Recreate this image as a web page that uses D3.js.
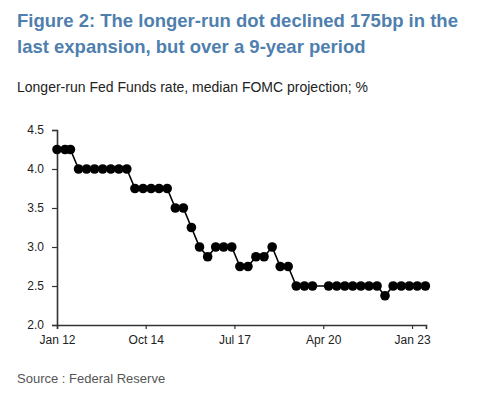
<!DOCTYPE html>
<html>
<head>
<meta charset="utf-8">
<script src="https://cdn.jsdelivr.net/npm/d3@7"></script>
<style>
  html, body { margin: 0; padding: 0; background: #fff; }
  svg { display: block; font-family: "Liberation Sans", Arial, sans-serif; }
</style>
</head>
<body>
<div id="chart"></div>
<script>
// FOMC meeting months (summary of economic projections)
const meetings = [
    "2012-01", "2012-04", "2012-06", "2012-09", "2012-12",
    "2013-03", "2013-06", "2013-09", "2013-12",
    "2014-03", "2014-06", "2014-09", "2014-12",
    "2015-03", "2015-06", "2015-09", "2015-12",
    "2016-03", "2016-06", "2016-09", "2016-12",
    "2017-03", "2017-06", "2017-09", "2017-12",
    "2018-03", "2018-06", "2018-09", "2018-12",
    "2019-03", "2019-06", "2019-09", "2019-12",
    "2020-06", "2020-09", "2020-12",
    "2021-03", "2021-06", "2021-09", "2021-12",
    "2022-03", "2022-06", "2022-09", "2022-12",
    "2023-03", "2023-06"
];

// Longer-run median projection, %
const longerRun = [
    4.25, 4.25, 4.25, 4.0, 4.0,
    4.0, 4.0, 4.0, 4.0,
    4.0, 3.75, 3.75, 3.75,
    3.75, 3.75, 3.5, 3.5,
    3.25, 3.0, 2.875, 3.0,
    3.0, 3.0, 2.75, 2.75,
    2.875, 2.875, 3.0, 2.75,
    2.75, 2.5, 2.5, 2.5,
    2.5, 2.5, 2.5,
    2.5, 2.5, 2.5, 2.5,
    2.375, 2.5, 2.5, 2.5,
    2.5, 2.5
];

const xTickDates = ["2012-01", "2014-10", "2017-07", "2020-04", "2023-01"];
const xTickLabels = ["Jan 12", "Oct 14", "Jul 17", "Apr 20", "Jan 23"];
const yTicks = [2.0, 2.5, 3.0, 3.5, 4.0, 4.5];

const WIDTH = 500;
const HEIGHT = 398;
const PLOT = { left: 57, right: 426, top: 130, bottom: 325 };

const parseMonth = d3.timeParse("%Y-%m");

const data = meetings.map((m, i) => ({ date: parseMonth(m), value: longerRun[i] }));

const svg = d3.select("#chart").append("svg")
    .attr("width", WIDTH)
    .attr("height", HEIGHT);

// Titres
const title = svg.append("text")
    .attr("x", 17)
    .attr("fill", "#4f7fae")
    .attr("font-weight", "bold")
    .attr("font-size", "18.5px");
title.append("tspan").attr("x", 17).attr("y", 27)
    .text("Figure 2: The longer-run dot declined 175bp in the");
title.append("tspan").attr("x", 17).attr("y", 53)
    .text("last expansion, but over a 9-year period");

svg.append("text")
    .attr("x", 17)
    .attr("y", 92)
    .attr("fill", "#222")
    .attr("font-size", "14px")
    .text("Longer-run Fed Funds rate, median FOMC projection; %");

// Échelles
const x = d3.scaleTime()
    .domain([parseMonth("2012-01"), new Date(2023, 5, 8)])
    .range([PLOT.left, PLOT.right]);

const y = d3.scaleLinear()
    .domain([2.0, 4.5])
    .range([PLOT.bottom, PLOT.top]);

// Axe X
const xAxis = d3.axisBottom(x)
    .tickValues(xTickDates.map(parseMonth))
    .tickFormat((d, i) => xTickLabels[i])
    .tickSizeOuter(0)
    .tickSize(4)
    .tickPadding(6);

const gx = svg.append("g")
    .attr("transform", `translate(0,${PLOT.bottom})`)
    .call(xAxis);

// Axe Y
const yAxis = d3.axisLeft(y)
    .tickValues(yTicks)
    .tickFormat(d3.format(".1f"))
    .tickSizeOuter(0)
    .tickSize(5)
    .tickPadding(8);

const gy = svg.append("g")
    .attr("transform", `translate(${PLOT.left},0)`)
    .call(yAxis);

[gx, gy].forEach(g => {
    g.select(".domain").attr("stroke", "#333").attr("stroke-width", 1.6);
    g.selectAll(".tick line").attr("stroke", "#333").attr("stroke-width", 1.2);
    g.selectAll(".tick text")
        .attr("fill", "#222")
        .attr("font-size", "12px")
        .attr("font-family", "\"Liberation Sans\", Arial, sans-serif");
});

// Ligne
const line = d3.line()
    .x(d => x(d.date))
    .y(d => y(d.value));

svg.append("path")
    .datum(data)
    .attr("fill", "none")
    .attr("stroke", "#000")
    .attr("stroke-width", 1.6)
    .attr("d", line);

// Points
svg.append("g")
    .selectAll("circle")
    .data(data)
    .join("circle")
    .attr("cx", d => x(d.date))
    .attr("cy", d => y(d.value))
    .attr("r", 4.8)
    .attr("fill", "#000");

// Source
svg.append("text")
    .attr("x", 17)
    .attr("y", 383)
    .attr("fill", "#555")
    .attr("font-size", "13px")
    .text("Source : Federal Reserve");
</script>
</body>
</html>
